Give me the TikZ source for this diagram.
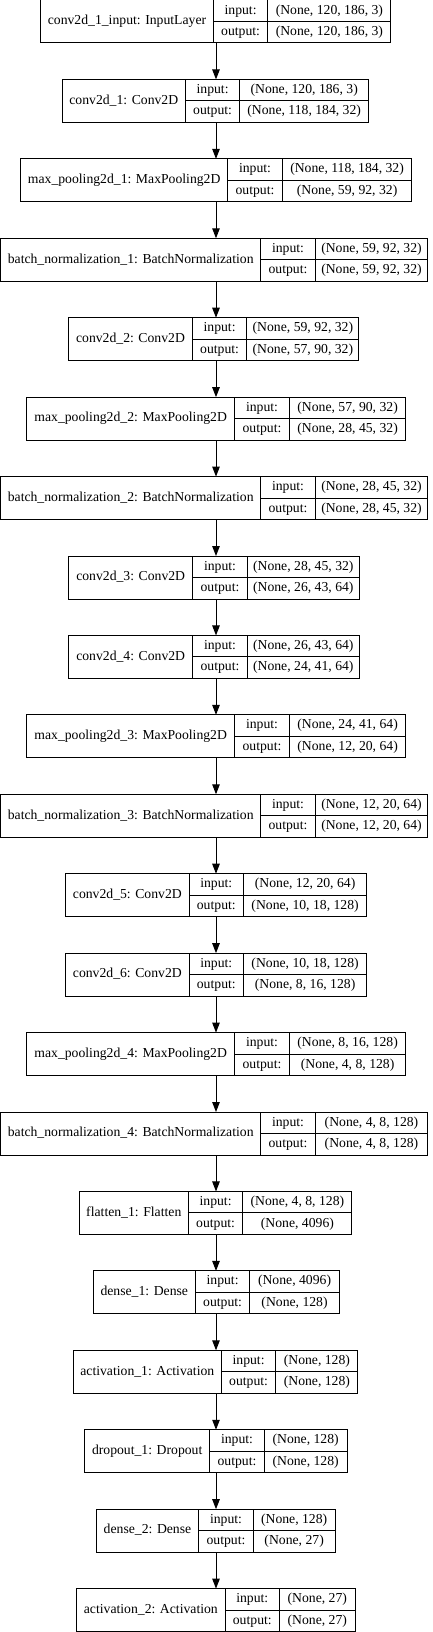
\documentclass[tikz,border=0pt]{standalone}
\usepackage{fontspec}
\setmainfont{Liberation Serif}
\usepackage{tikz}
\usetikzlibrary{arrows.meta,positioning}

% one keras layer: id, row, left x, name width, dims width, name, input, output
\newcommand{\kerasbox}[8]{%
  \node[layer, minimum width=#4pt] (#1) at (#3,-79.43*#2) {#6};
  \node[port, right=0pt of #1.north east, anchor=north west] (#1-pi) {input:};
  \node[port, below=0pt of #1-pi] (#1-po) {output:};
  \node[dims, minimum width=#5pt, right=0pt of #1-pi] (#1-vi) {#7};
  \node[dims, minimum width=#5pt, right=0pt of #1-po] (#1-vo) {#8};
  \coordinate (#1-top) at (216,-79.43*#2);
  \coordinate (#1-bot) at (216,-79.43*#2-43);
}

\begin{document}
\begin{tikzpicture}[x=1pt, y=1pt,
  cell/.style={draw, line width=1pt, inner sep=0pt, outer sep=0pt, align=center,
    font=\fontsize{13.7}{16}\selectfont, text height=9.6pt, text depth=3pt},
  layer/.style={cell, minimum height=43pt, anchor=north west},
  port/.style={cell, minimum width=54.6pt, minimum height=21.5pt},
  dims/.style={cell, minimum height=21.5pt},
  arrow/.style={-{Triangle[length=10pt, width=7.5pt]}, line width=1pt}]

\useasboundingbox (0,0) rectangle (432,-1632);

\kerasbox{inp}{0}{40.7}{172.6}{123}{conv2d\_1\_input: InputLayer}{(None, 120, 186, 3)}{(None, 120, 186, 3)}
\kerasbox{c1}{1}{62.3}{123}{128.6}{conv2d\_1: Conv2D}{(None, 120, 186, 3)}{(None, 118, 184, 32)}
\kerasbox{mp1}{2}{20.7}{207}{129.6}{max\_pooling2d\_1: MaxPooling2D}{(None, 118, 184, 32)}{(None, 59, 92, 32)}
\kerasbox{bn1}{3}{0.7}{260}{112.4}{batch\_normalization\_1: BatchNormalization}{(None, 59, 92, 32)}{(None, 59, 92, 32)}
\kerasbox{c2}{4}{68.7}{123.6}{112}{conv2d\_2: Conv2D}{(None, 59, 92, 32)}{(None, 57, 90, 32)}
\kerasbox{mp2}{5}{26.7}{208}{116.6}{max\_pooling2d\_2: MaxPooling2D}{(None, 57, 90, 32)}{(None, 28, 45, 32)}
\kerasbox{bn2}{6}{0.7}{260}{112.4}{batch\_normalization\_2: BatchNormalization}{(None, 28, 45, 32)}{(None, 28, 45, 32)}
\kerasbox{c3}{7}{68.7}{124}{112}{conv2d\_3: Conv2D}{(None, 28, 45, 32)}{(None, 26, 43, 64)}
\kerasbox{c4}{8}{68.7}{124}{112}{conv2d\_4: Conv2D}{(None, 26, 43, 64)}{(None, 24, 41, 64)}
\kerasbox{mp3}{9}{26.7}{208}{116.6}{max\_pooling2d\_3: MaxPooling2D}{(None, 24, 41, 64)}{(None, 12, 20, 64)}
\kerasbox{bn3}{10}{0.7}{260}{112.4}{batch\_normalization\_3: BatchNormalization}{(None, 12, 20, 64)}{(None, 12, 20, 64)}
\kerasbox{c5}{11}{65.7}{123.3}{123}{conv2d\_5: Conv2D}{(None, 12, 20, 64)}{(None, 10, 18, 128)}
\kerasbox{c6}{12}{65.7}{123.3}{123}{conv2d\_6: Conv2D}{(None, 10, 18, 128)}{(None, 8, 16, 128)}
\kerasbox{mp4}{13}{26.7}{208}{116.6}{max\_pooling2d\_4: MaxPooling2D}{(None, 8, 16, 128)}{(None, 4, 8, 128)}
\kerasbox{bn4}{14}{0.7}{260}{112.4}{batch\_normalization\_4: BatchNormalization}{(None, 4, 8, 128)}{(None, 4, 8, 128)}
\kerasbox{fl}{15}{79.3}{109}{109}{flatten\_1: Flatten}{(None, 4, 8, 128)}{(None, 4096)}
\kerasbox{d1}{16}{93.3}{102}{89.3}{dense\_1: Dense}{(None, 4096)}{(None, 128)}
\kerasbox{a1}{17}{73.3}{148}{82}{activation\_1: Activation}{(None, 128)}{(None, 128)}
\kerasbox{dr}{18}{84.7}{125}{82.7}{dropout\_1: Dropout}{(None, 128)}{(None, 128)}
\kerasbox{d2}{19}{96.3}{102.4}{81.7}{dense\_2: Dense}{(None, 128)}{(None, 27)}
\kerasbox{a2}{20}{76.7}{148.3}{75.4}{activation\_2: Activation}{(None, 27)}{(None, 27)}

\draw[arrow] (inp-bot) -- (c1-top);
\draw[arrow] (c1-bot) -- (mp1-top);
\draw[arrow] (mp1-bot) -- (bn1-top);
\draw[arrow] (bn1-bot) -- (c2-top);
\draw[arrow] (c2-bot) -- (mp2-top);
\draw[arrow] (mp2-bot) -- (bn2-top);
\draw[arrow] (bn2-bot) -- (c3-top);
\draw[arrow] (c3-bot) -- (c4-top);
\draw[arrow] (c4-bot) -- (mp3-top);
\draw[arrow] (mp3-bot) -- (bn3-top);
\draw[arrow] (bn3-bot) -- (c5-top);
\draw[arrow] (c5-bot) -- (c6-top);
\draw[arrow] (c6-bot) -- (mp4-top);
\draw[arrow] (mp4-bot) -- (bn4-top);
\draw[arrow] (bn4-bot) -- (fl-top);
\draw[arrow] (fl-bot) -- (d1-top);
\draw[arrow] (d1-bot) -- (a1-top);
\draw[arrow] (a1-bot) -- (dr-top);
\draw[arrow] (dr-bot) -- (d2-top);
\draw[arrow] (d2-bot) -- (a2-top);
\end{tikzpicture}
\end{document}
